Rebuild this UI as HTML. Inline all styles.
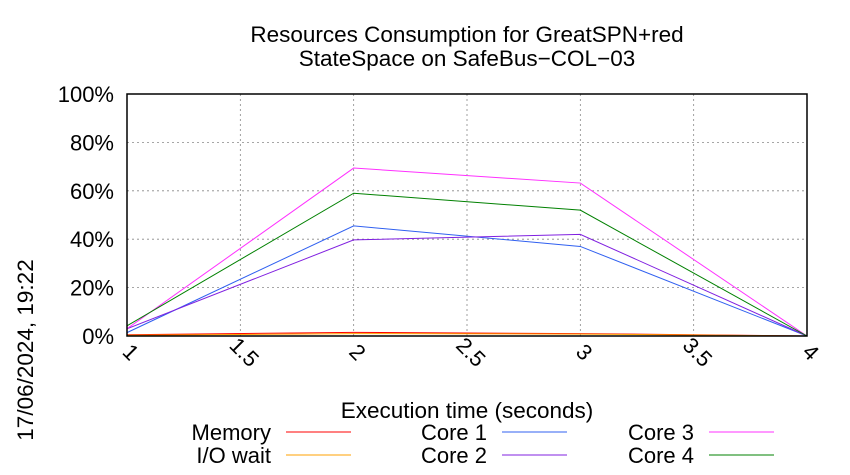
<!DOCTYPE html>
<html><head><meta charset="utf-8"><style>
body{margin:0;background:#fff;}
svg{display:block;font-family:"Liberation Sans",sans-serif;}
</style></head><body>
<svg id="c" width="850" height="475" viewBox="0 0 850 475">
<text x="467" y="42" font-size="22.5" text-anchor="middle">Resources Consumption for GreatSPN+red</text>
<text x="467" y="66" font-size="22.5" text-anchor="middle">StateSpace on SafeBus−COL−03</text>
<text x="467" y="418" font-size="22.5" text-anchor="middle">Execution time (seconds)</text>
<text transform="translate(33,350) rotate(-90)" font-size="22.5" text-anchor="middle">17/06/2024, 19:22</text>
<g id="grid"></g><g id="series"></g><g id="legend"></g>
<rect x="127" y="94" width="680" height="242" fill="none" stroke="#000" stroke-width="1.5"/>
</svg>
<script>
const xVals=[1,2,3,4];
const xTicks=[1,1.5,2,2.5,3,3.5,4];
const xTickLabels=["1","1.5","2","2.5","3","3.5","4"];
const yTicks=[0,20,40,60,80,100];
const yTickLabels=["0%","20%","40%","60%","80%","100%"];
const seriesNames=["Memory","I/O wait","Core 1","Core 2","Core 3","Core 4"];
const memory=[0.5,1.5,1.0,0];
const ioWait=[0.3,1.0,0.8,0];
const core1=[1.4,45.5,37,0];
const core2=[3,39.7,42,0];
const core3=[3,69.4,63.2,0];
const core4=[4.2,59,52,0];
const colors=["#ff0000","#ffa000","#3060f0","#8020e0","#ff30ff","#008000"];
const X0=127,X1=807,Y0=336,Y1=94;
const sx=v=>X0+(v-1)/3*(X1-X0);
const sy=v=>Y0-v/100*(Y0-Y1);
const NS="http://www.w3.org/2000/svg";
function mk(t,a,p){const e=document.createElementNS(NS,t);for(const k in a)e.setAttribute(k,a[k]);p.appendChild(e);return e;}
const g=document.getElementById('grid');
xTicks.forEach((t,i)=>{
 const x=sx(t);
 const l=mk('line',{x1:x,x2:x,y1:Y1,y2:Y0,stroke:'#888','stroke-dasharray':'2,3','stroke-width':0.8},g);
 
 
 const tx=mk('text',{x:x,y:Y0+22,'font-size':22,'text-anchor':'middle',transform:`rotate(45 ${x} ${Y0+20})`},g);
 tx.textContent=xTickLabels[i];
 
 
});
yTicks.forEach((t,i)=>{
 const y=sy(t);
 const l=mk('line',{x1:X0,x2:X1,y1:y,y2:y,stroke:'#888','stroke-dasharray':'2,3','stroke-width':0.8},g);
 
 
 const tx=mk('text',{x:X0-13,y:y+8,'font-size':22,'text-anchor':'end'},g);
 tx.textContent=yTickLabels[i];
 
 
});
const data=[memory,ioWait,core1,core2,core3,core4];
const s=document.getElementById('series');
data.forEach((d,i)=>{
 const p=mk('polyline',{points:d.map((v,j)=>sx(xVals[j])+','+sy(v)).join(' '),fill:'none',stroke:colors[i],'stroke-width':1},s);
 
 
});
const lg=document.getElementById('legend');
const lpos=[[271,432],[271,455],[487,432],[487,455],[694,432],[694,455]];
seriesNames.forEach((n,i)=>{
 const [x,y]=lpos[i];
 const t=mk('text',{x:x,y:y+8,'font-size':22,'text-anchor':'end'},lg);
 t.textContent=n;
 
 
 const l=mk('line',{x1:x+15,x2:x+80,y1:y,y2:y,stroke:colors[i],'stroke-width':1},lg);
 
 
});
</script>
</body></html>
